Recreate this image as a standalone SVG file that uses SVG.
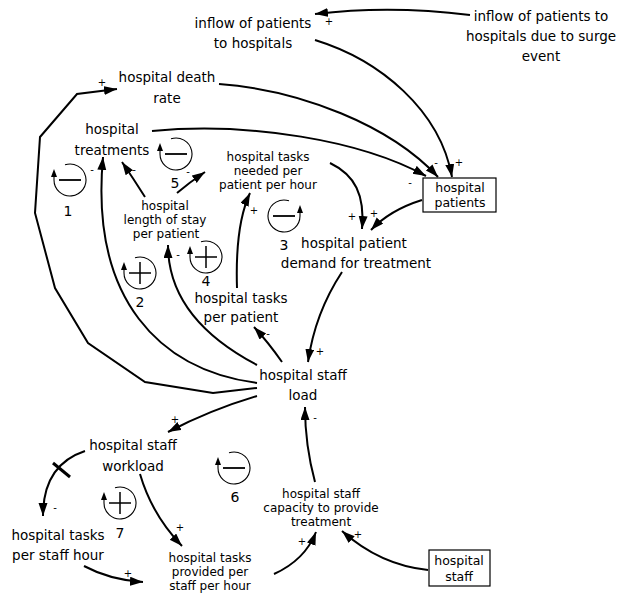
<svg xmlns="http://www.w3.org/2000/svg" width="617" height="594" viewBox="0 0 617 594">
  <style>
    text { font-family: "DejaVu Sans", "Liberation Sans", sans-serif; fill: #000; }
    .lbl { font-size: 13.5px; text-anchor: middle; }
    .cmp { font-size: 12px; text-anchor: middle; }
    .bx { font-size: 12.5px; text-anchor: middle; }
    .num { font-size: 14px; text-anchor: middle; }
    .pol { font-size: 10px; text-anchor: middle; }
    .link { fill: none; stroke: #000; stroke-width: 2; marker-end: url(#arr); }
    .box { fill: #fff; stroke: #000; stroke-width: 1.2; }
    .ring { fill: none; stroke: #000; stroke-width: 1.1; }
    .sign { stroke: #000; stroke-width: 1.8; fill: none; }
  </style>
  <defs>
    <marker id="arr" markerUnits="userSpaceOnUse" markerWidth="14" markerHeight="10" refX="13" refY="4.5" orient="auto">
      <path d="M0,0 L13,4.5 L0,9 z" fill="#000"/>
    </marker>
    <!-- loop symbol, arrow on the left side -->
    <g id="loopL">
      <path class="ring" d="M -5,-15.2 A 16 16 0 1 1 -16,0 L -16,-4"/>
      <path d="M -16,-11 L -19,-3 L -13,-3 z" fill="#000"/>
    </g>
    <!-- loop symbol, arrow on the right side -->
    <g id="loopR">
      <path class="ring" d="M 5,-15.2 A 16 16 0 1 0 16,0 L 16,-4"/>
      <path d="M 16,-11 L 13,-3 L 19,-3 z" fill="#000"/>
    </g>
    <path id="neg" class="sign" d="M -11,0 H 11"/>
    <path id="pos" class="sign" d="M -11,0 H 11 M 0,-11 V 11" style="stroke-width:1.5"/>
  </defs>

  <!-- connectors -->
  <g id="connectors">
    <path class="link" d="M470,15 Q390,5 315,14"/>
    <path class="link" d="M315,40 C380,60 440,110 452,177"/>
    <path class="link" d="M219,84 C300,90 390,125 438,177"/>
    <path class="link" d="M152,131 C250,122 360,140 426,176"/>
    <path class="link" d="M422,200 Q390,210 371,230"/>
    <path class="link" d="M330,163 C355,175 365,195 362,229"/>
    <path class="link" d="M342,272 Q315,313 308,362"/>
    <path class="link" d="M282,362 Q268,342 254,327"/>
    <path class="link" d="M237,288 Q235,225 250,193"/>
    <path class="link" d="M177,193 Q190,182 205,172"/>
    <path class="link" d="M145,197 Q133,178 122,162"/>
    <path class="link" d="M257,383 C160,370 90,300 103,157"/>
    <path class="link" d="M257,365 C200,335 168,295 168,245"/>
    <path class="link" d="M257,388 L213,393 L145,382 L88,343 L55,288 L35,213 L40,137 L77,94 L117,89"/>
    <path class="link" d="M257,396 Q210,410 168,432"/>
    <path class="link" d="M85,451 Q43,465 43,516"/>
    <path d="M53,463 L70,477" stroke="#000" stroke-width="3"/>
    <path class="link" d="M140,474 Q152,515 182,546"/>
    <path class="link" d="M84,566 Q110,580 143,582"/>
    <path class="link" d="M274,574 Q305,560 316,532"/>
    <path class="link" d="M428,570 Q380,565 342,531"/>
    <path class="link" d="M315,482 Q305,445 305,407"/>

    <!-- polarity marks -->
    <text class="pol" x="329" y="25">+</text>
    <text class="pol" x="459" y="166">+</text>
    <text class="pol" x="436" y="166">-</text>
    <text class="pol" x="410" y="186">-</text>
    <text class="pol" x="374" y="217">+</text>
    <text class="pol" x="352" y="220">+</text>
    <text class="pol" x="320" y="355">+</text>
    <text class="pol" x="268" y="337">-</text>
    <text class="pol" x="254" y="214">+</text>
    <text class="pol" x="188" y="175">-</text>
    <text class="pol" x="134" y="173">-</text>
    <text class="pol" x="92" y="173">-</text>
    <text class="pol" x="178" y="258">-</text>
    <text class="pol" x="102" y="86">+</text>
    <text class="pol" x="175" y="423">+</text>
    <text class="pol" x="55" y="511">-</text>
    <text class="pol" x="180" y="531">+</text>
    <text class="pol" x="128" y="577">+</text>
    <text class="pol" x="302" y="545">+</text>
    <text class="pol" x="358" y="538">+</text>
    <text class="pol" x="315" y="421">-</text>
  </g>

  <!-- feedback loop markers -->
  <g id="loop1"><use href="#loopL" x="70" y="180"/><use href="#neg" x="70" y="180"/><text class="num" x="68" y="216">1</text></g>
  <g id="loop2"><use href="#loopL" x="140" y="273"/><use href="#pos" x="140" y="273"/><text class="num" x="140" y="307">2</text></g>
  <g id="loop3"><use href="#loopR" x="284" y="216"/><use href="#neg" x="284" y="216"/><text class="num" x="284" y="250">3</text></g>
  <g id="loop4"><use href="#loopL" x="206" y="257"/><use href="#pos" x="206" y="257"/><text class="num" x="206" y="286">4</text></g>
  <g id="loop5"><use href="#loopL" x="176" y="154"/><use href="#neg" x="176" y="154"/><text class="num" x="175" y="188">5</text></g>
  <g id="loop6"><use href="#loopL" x="234" y="468"/><use href="#neg" x="234" y="468"/><text class="num" x="235" y="502">6</text></g>
  <g id="loop7"><use href="#loopL" x="120" y="503"/><use href="#pos" x="120" y="503"/><text class="num" x="120" y="538">7</text></g>

  <!-- variables -->
  <g id="inflow">
    <text class="lbl" x="253" y="28">inflow of patients</text>
    <text class="lbl" x="253" y="48">to hospitals</text>
  </g>
  <g id="surge">
    <text class="lbl" x="541" y="21">inflow of patients to</text>
    <text class="lbl" x="541" y="41">hospitals due to surge</text>
    <text class="lbl" x="541" y="61">event</text>
  </g>
  <g id="death-rate">
    <text class="lbl" x="167" y="82">hospital death</text>
    <text class="lbl" x="167" y="103">rate</text>
  </g>
  <g id="treatments">
    <text class="lbl" x="112" y="134">hospital</text>
    <text class="lbl" x="112" y="155">treatments</text>
  </g>
  <g id="tasks-needed">
    <text class="cmp" x="268" y="161">hospital tasks</text>
    <text class="cmp" x="268" y="175">needed per</text>
    <text class="cmp" x="268" y="189">patient per hour</text>
  </g>
  <g id="length-of-stay">
    <text class="cmp" x="165" y="210">hospital</text>
    <text class="cmp" x="165" y="224">length of stay</text>
    <text class="cmp" x="166" y="238">per patient</text>
  </g>
  <g id="tasks-per-patient">
    <text class="lbl" x="241" y="303">hospital tasks</text>
    <text class="lbl" x="241" y="322">per patient</text>
  </g>
  <g id="patient-demand">
    <text class="lbl" x="354" y="248">hospital patient</text>
    <text class="lbl" x="356" y="268">demand for treatment</text>
  </g>
  <g id="staff-load">
    <text class="lbl" x="303" y="380">hospital staff</text>
    <text class="lbl" x="303" y="400">load</text>
  </g>
  <g id="staff-workload">
    <text class="lbl" x="133" y="450">hospital staff</text>
    <text class="lbl" x="133" y="471">workload</text>
  </g>
  <g id="tasks-per-staff-hour">
    <text class="lbl" x="58" y="540">hospital tasks</text>
    <text class="lbl" x="58" y="560">per staff hour</text>
  </g>
  <g id="tasks-provided">
    <text class="cmp" x="210" y="562">hospital tasks</text>
    <text class="cmp" x="210" y="576">provided per</text>
    <text class="cmp" x="210" y="590">staff per hour</text>
  </g>
  <g id="staff-capacity">
    <text class="cmp" x="321" y="498">hospital staff</text>
    <text class="cmp" x="321" y="512">capacity to provide</text>
    <text class="cmp" x="321" y="526">treatment</text>
  </g>
  <g id="hospital-patients">
    <rect class="box" x="423" y="178" width="73" height="34"/>
    <text class="bx" x="460" y="192">hospital</text>
    <text class="bx" x="460" y="207">patients</text>
  </g>
  <g id="hospital-staff">
    <rect class="box" x="429" y="550" width="61" height="36"/>
    <text class="bx" x="459" y="565">hospital</text>
    <text class="bx" x="459" y="581">staff</text>
  </g>
</svg>
